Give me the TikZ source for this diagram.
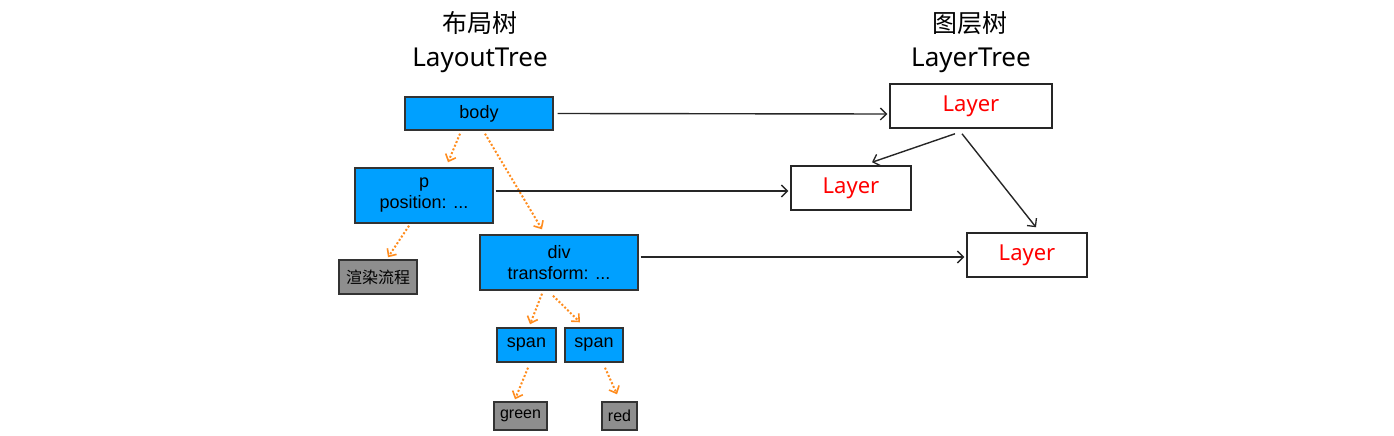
\documentclass[tikz,border=0pt]{standalone}
\usepackage{fontspec}
\setmainfont{Liberation Sans}
\newfontfamily\cjk{Noto Sans CJK SC}
\newfontfamily\hand{Noto Sans}
\usetikzlibrary{arrows.meta}
\definecolor{boxblue}{RGB}{0,160,255}
\definecolor{boxgray}{RGB}{142,142,142}
\definecolor{arrorange}{RGB}{255,140,30}
\tikzset{
  bluebox/.style={draw=black!80, line width=1.4pt, fill=boxblue, inner sep=0pt, align=center, font=\fontsize{18}{21}\selectfont},
  graybox/.style={draw=black!80, line width=1.4pt, fill=boxgray, inner sep=0pt, align=center, font=\fontsize{16}{18}\selectfont},
  layerbox/.style={draw=black!85, line width=1.5pt, fill=white, inner sep=0pt, text=red, font=\hand\fontsize{22}{24}\selectfont},
  oarrow/.style={draw=arrorange, line width=2pt, dotted, -{Straight Barb[length=6pt,width=11pt,line width=1.6pt]}},
  karrow/.style={draw=black!85, line width=1.4pt, -{Straight Barb[length=6pt,width=12pt,line width=1.3pt]}},
  title/.style={font=\cjk\fontsize{25}{27}\selectfont},
  subtitle/.style={font=\hand\fontsize{26}{28}\selectfont}
}
\begin{document}
\begin{tikzpicture}[x=1pt,y=-1pt]
\useasboundingbox (0,0) rectangle (1394,436);
\node[title] (t1) at (480,23) {布局树};
\node[subtitle] (s1) at (480,60) {LayoutTree};
\node[title] (t2) at (970,23) {图层树};
\node[subtitle] (s2) at (971,60) {LayerTree};

\node[bluebox, minimum width=148pt, minimum height=33pt] (body) at (479,113.5) {body};
\node[bluebox, minimum width=138pt, minimum height=55pt] (p) at (424,195.5) {p\\position: ...};
\node[graybox, minimum width=78pt, minimum height=34pt, font=\cjk\fontsize{16}{18}\selectfont] (xr) at (378,277) {渲染流程};
\node[bluebox, minimum width=158pt, minimum height=55pt] (div) at (559,262.5) {div\\transform: ...};
\node[bluebox, minimum width=59pt, minimum height=34pt] (span1) at (526.5,345) {span};
\node[bluebox, minimum width=58pt, minimum height=34pt] (span2) at (594,345) {span};
\node[graybox, minimum width=53pt, minimum height=28pt] (green) at (520.5,416) {green};
\node[graybox, minimum width=35pt, minimum height=28pt] (red) at (619.5,416) {red};

\node[layerbox, minimum width=162pt, minimum height=44pt] (L1) at (971,106) {Layer};
\node[layerbox, minimum width=120pt, minimum height=44pt] (L2) at (851,188) {Layer};
\node[layerbox, minimum width=120pt, minimum height=44pt] (L3) at (1027,255) {Layer};

\draw[oarrow] ([xshift=-19pt,yshift=-3pt]body.south) -- ([xshift=24pt,yshift=5pt]p.north);
\draw[oarrow] ([xshift=6pt,yshift=-3pt]body.south) -- ([xshift=-17pt,yshift=5pt]div.north);
\draw[oarrow] ([xshift=-15pt,yshift=-2pt]p.south) -- ([xshift=10pt,yshift=2pt]xr.north);
\draw[oarrow] ([xshift=-17pt,yshift=-3pt]div.south) -- ([xshift=3.5pt,yshift=3pt]span1.north);
\draw[oarrow] ([xshift=-6pt,yshift=-5pt]div.south) -- ([xshift=-14pt,yshift=5pt]span2.north);
\draw[oarrow] ([xshift=1.5pt,yshift=-5pt]span1.south) -- ([xshift=-5.5pt,yshift=2pt]green.north);
\draw[oarrow] ([xshift=11pt,yshift=-5pt]span2.south) -- ([xshift=-2.5pt,yshift=7pt]red.north);

\draw[karrow] ([xshift=4pt]body.east) -- ([xshift=-2pt,yshift=-8pt]L1.west);
\draw[karrow] ([xshift=2pt,yshift=4.5pt]p.east) -- ([xshift=-2pt,yshift=-3pt]L2.west);
\draw[karrow] ([xshift=2pt,yshift=5.5pt]div.east) -- ([xshift=-2pt,yshift=-2pt]L3.west);
\draw[karrow] ([xshift=-16pt,yshift=-5pt]L1.south) -- ([xshift=21pt,yshift=3pt]L2.north);
\draw[karrow] ([xshift=-9pt,yshift=-5pt]L1.south) -- ([xshift=9pt,yshift=5pt]L3.north);
\end{tikzpicture}
\end{document}
